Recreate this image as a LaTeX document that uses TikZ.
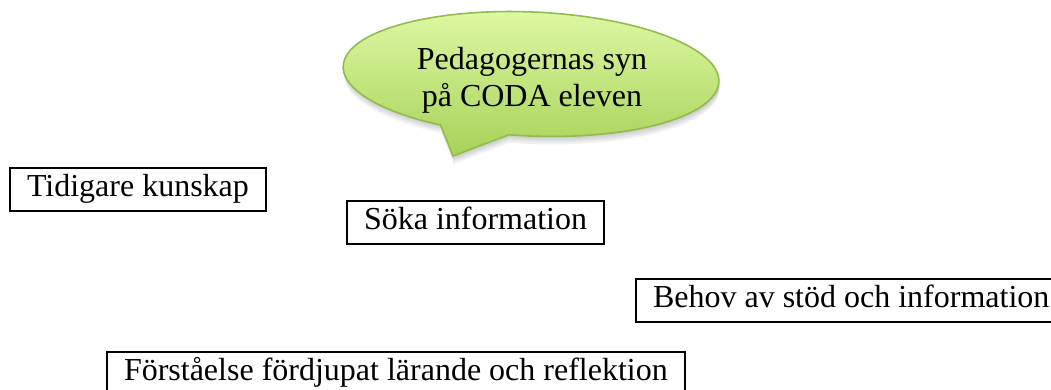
\documentclass[tikz,border=0pt]{standalone}
\usepackage{fontspec}
\setmainfont{Liberation Serif}
\usepackage{tikz}

\definecolor{bubbletop}{RGB}{224,249,166}
\definecolor{bubblebottom}{RGB}{166,210,88}
\definecolor{bubbleline}{RGB}{146,188,78}

\begin{document}
\begin{tikzpicture}[x=0.5pt,y=0.5pt]
\tikzstyle{kbox}=[draw=black,line width=1pt,anchor=north west,inner xsep=8.5pt,inner ysep=0pt,
                  minimum height=21.5pt,text height=0.85em,text depth=0.1em]
\tikzset{font=\fontsize{16pt}{18.5pt}\selectfont}

        \useasboundingbox (0,0) rectangle (1051,390);
        \clip (0,0) rectangle (1051,390);

        % speech bubble
        \begin{scope}[shift={(531,316)},rotate=-2.4]
        \foreach \s in {2,4,6,8}
          \fill[black,opacity=0.05,shift={(1,-\s)}] (-96:188 and 62) arc[start angle=-96,end angle=242,x radius=188,y radius=62] -- (-74.5,-85.2) -- cycle;
        \shade[top color=bubbletop,bottom color=bubblebottom,draw=bubbleline,line width=0.8pt]
              (-96:188 and 62) arc[start angle=-96,end angle=242,x radius=188,y radius=62] -- (-74.5,-85.2) -- cycle;
        \end{scope}
        \node[align=center,anchor=base]   (P) at (532,283) {Pedagogernas syn\\på CODA eleven};

        % boxes
        \node[kbox]   (T) at (9,223)   {Tidigare kunskap};
        \node[kbox]   (S) at (346,190) {Söka information};
        \node[kbox]   (B) at (635,112) {Behov av stöd och information};
        \node[kbox]   (F) at (106,39)  {Förståelse fördjupat lärande och reflektion};

\end{tikzpicture}
\end{document}
